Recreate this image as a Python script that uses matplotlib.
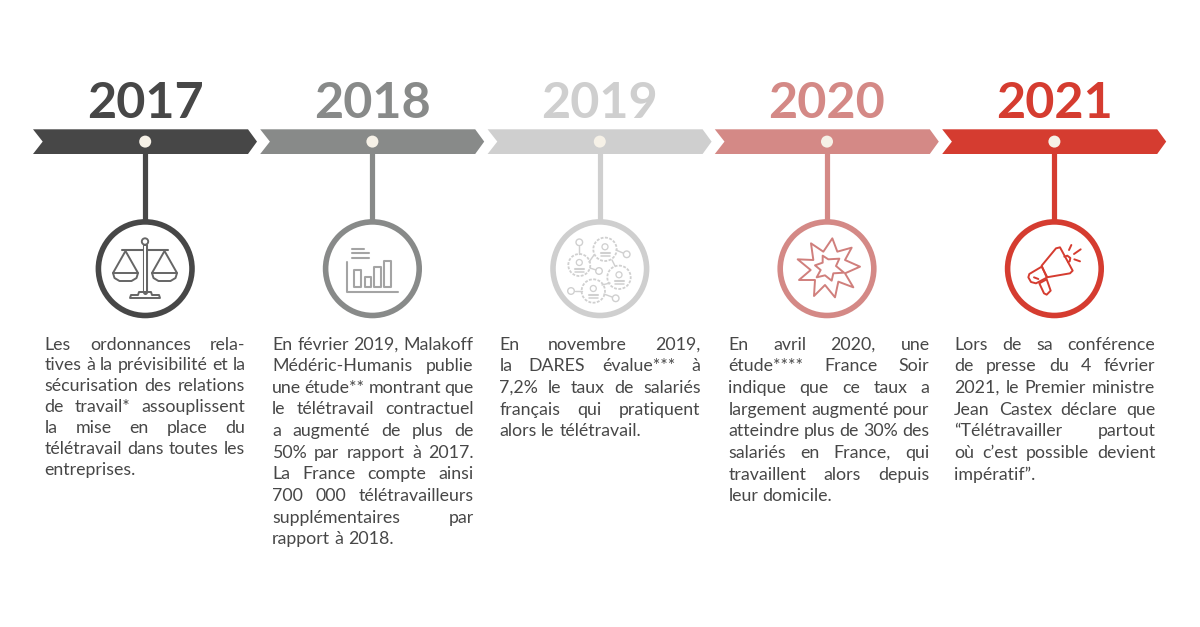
import matplotlib
matplotlib.use("Agg")
import matplotlib.pyplot as plt
from matplotlib.patches import Polygon, Circle, Rectangle

years = ["2017", "2018", "2019", "2020", "2021"]
colors = ["#474747", "#888a89", "#cfcfcf", "#d48986", "#d53c30"]
icon_colors = ["#666666", "#a4a4a4", "#d0d0d0", "#d07f7c", "#d53c30"]
paragraphs = [
    ["Les ordonnances rela-", "tives à la prévisibilité et la", "sécurisation des relations",
     "de travail* assouplissent", "la mise en place du", "télétravail dans toutes les", "entreprises."],
    ["En février 2019, Malakoff", "Médéric-Humanis publie", "une étude** montrant que",
     "le télétravail contractuel", "a augmenté de plus de", "50% par rapport à 2017.",
     "La France compte ainsi", "700 000 télétravailleurs", "supplémentaires par", "rapport à 2018."],
    ["En novembre 2019,", "la DARES évalue*** à", "7,2% le taux de salariés",
     "français qui pratiquent", "alors le télétravail."],
    ["En avril 2020, une", "étude**** France Soir", "indique que ce taux a", "largement augmenté pour",
     "atteindre plus de 30% des", "salariés en France, qui", "travaillent alors depuis", "leur domicile."],
    ["Lors de sa conférence", "de presse du 4 février", "2021, le Premier ministre",
     "Jean Castex déclare que", "“Télétravailler partout", "où c’est possible devient", "impératif”."],
]

TEXT = "#474747"
CREAM = "#f6f1e7"
PX = 0.72  # one pixel in points at dpi 100
FONT = "Lato"
BODY = 12.8
LW = 1.3

fig = plt.figure(figsize=(12, 6.27), dpi=100)
ax = fig.add_axes([0, 0, 1, 1])
ax.set_xlim(0, 1200)
ax.set_ylim(627, 0)
ax.axis("off")
renderer = fig.canvas.get_renderer()


def width_of(s, **kw):
    t = ax.text(0, 0, s, **kw)
    w = t.get_window_extent(renderer).width
    t.remove()
    return w


def justified(lines, x0, x1, y0, step):
    kw = dict(fontsize=BODY, family=FONT, color=TEXT)
    space = width_of("a a", **kw) - width_of("aa", **kw)
    for i, line in enumerate(lines):
        y = y0 + i * step
        words = line.split(" ")
        widths = [width_of(w, **kw) for w in words]
        last = i == len(lines) - 1
        gap = space if last or len(words) == 1 else (x1 - x0 - sum(widths)) / (len(words) - 1)
        x = x0
        for w, wd in zip(words, widths):
            ax.text(x, y, w, va="baseline", ha="left", **kw)
            x += wd + gap


def stroke(pts, c, lw=1.5, closed=False):
    ax.add_patch(Polygon(pts, closed=closed, fill=False, ec=c, lw=lw * LW * PX, joinstyle="round", capstyle="round", zorder=5))


def scales(c):
    stroke([(145, 245), (145, 292)], c, 3.9)
    ax.add_patch(Rectangle((143.8, 246), 2.4, 45, fc="white", ec="none", zorder=6))
    ax.add_patch(Circle((145, 241.5), 3.2, fc="white", ec=c, lw=1.9 * PX, zorder=7))
    stroke([(122, 250), (140, 250), (150, 250), (168, 250)], c, 1.6)
    for cx in (125.5, 164.5):
        stroke([(cx - 12.5, 273), (cx, 251), (cx + 12.5, 273)], c, 1.5)
        stroke([(cx - 12.5, 273), (cx + 12.5, 273), (cx + 11, 278), (cx + 6, 281), (cx - 6, 281), (cx - 11, 278)], c, 1.5, True)
    stroke([(139, 292), (151, 292), (152, 295), (159, 295), (160, 298), (130, 298), (131, 295), (138, 295)], c, 1.5, True)


def barsicon(c):
    stroke([(346.7, 262), (346.7, 291.7), (398.3, 291.7)], c, 1.6)
    for l, r, t in [(354, 361, 270), (365, 371, 277), (374.3, 381, 267), (384.3, 391, 261)]:
        stroke([(l, 287), (l, t), (r, t), (r, 287)], c, 1.6, True)
    for y, r in [(249, 364), (253, 369), (258, 369)]:
        stroke([(352, y), (r, y)], c, 1.6)


def network(c):
    big = [(579.3, 265, 11), (605, 249.3, 11.7), (619, 277.3, 11.7), (593.3, 291, 11.7)]
    small = [(579.3, 242.3), (626.7, 254.3), (599, 271), (571, 291), (615.7, 298.3)]
    for a, b in [((579.3, 246), (579.3, 254)), ((616, 250), (623, 253)), ((589, 262), (594, 255)),
                 ((590, 268), (596, 270)), ((612, 260), (615, 266)), ((602, 285), (610, 283)),
                 ((574.5, 291), (582, 291)), ((604, 294), (612, 297))]:
        stroke([a, b], c, 1.1)
    for x, y, r in big:
        ax.add_patch(Circle((x, y), r, fill=False, ec=c, lw=1.8 * PX, ls=(0, (1.6, 0.8)), zorder=5))
        ax.add_patch(Circle((x, y - 2.5), 3, fill=False, ec=c, lw=1.3 * PX, zorder=5))
        stroke([(x - 4.5, y + 4), (x + 4.5, y + 4)], c, 1.6)
        stroke([(x - 4.5, y + 6.5), (x + 4.5, y + 6.5)], c, 1.2)
    for x, y in small:
        ax.add_patch(Circle((x, y), 3.3, fill=False, ec=c, lw=1.4 * PX, zorder=5))


def burst(c):
    z = [(937, 85), (952, 125), (995, 113), (975, 150), (1020, 170), (975, 190), (1000, 232), (955, 215),
         (945, 262), (915, 225), (882, 258), (885, 210), (837, 210), (872, 180), (833, 148), (880, 150),
         (873, 100), (910, 125)]
    stroke([(520 + x / 3, 210 + y / 3) for x, y in z], c, 1.5, True)
    k = [(908, 137), (925, 148), (958, 146), (948, 168), (972, 188), (940, 190), (935, 212), (915, 196),
         (890, 202), (902, 180), (885, 166), (908, 158)]
    stroke([(520 + x / 3, 210 + y / 3) for x, y in k], c, 1.5, True)


def megaphone(c):
    def p(z):
        return [(930 + x / 3, 120 + y / 3) for x, y in z]
    stroke(p([(335, 437), (378, 385), (390, 382), (428, 452), (420, 460), (350, 472)]), c, 1.5, True)
    stroke(p([(298, 462), (335, 440), (352, 472), (318, 490), (303, 486), (295, 472)]), c, 1.5, True)
    stroke(p([(328, 490), (350, 478), (362, 512), (350, 524), (342, 520)]), c, 1.5, True)
    stroke(p([(403, 410), (412, 407), (421, 414), (419, 424), (414, 426)]), c, 1.5)
    stroke(p([(417, 390), (424, 375)]), c, 1.5)
    stroke(p([(432, 402), (452, 388)]), c, 1.5)
    stroke(p([(433, 418), (450, 424)]), c, 1.5)
    stroke(p([(312, 472), (325, 477)]), c, 1.5)


icons = [scales, barsicon, network, burst, megaphone]
starts = [33, 260.2, 487.6, 714.8, 942.2]
columns = [(44.3, 245.5), (272, 473.7), (499.3, 700.5), (728.3, 929.5), (954.3, 1155.3)]
steps = [20.9, 21.65, 21.7, 21.7, 21.7]

for yr, col, icol, para, x0, (tx0, tx1), icon, step in zip(years, colors, icon_colors, paragraphs, starts, columns, icons, steps):
    cx = x0 + 112.2
    ax.add_patch(Polygon([(x0, 129.3), (x0 + 215, 129.3), (x0 + 224, 141.6), (x0 + 215, 154), (x0, 154), (x0 + 9.7, 141.6)],
                         closed=True, fc=col, ec="none", zorder=2))
    ax.plot([cx, cx], [153, 221], color=col, lw=5.2 * PX, solid_capstyle="butt", zorder=2)
    ax.add_patch(Circle((cx, 141.6), 6, fc=CREAM, ec="none", zorder=3))
    ax.add_patch(Circle((cx, 268.7), 46.8, fc="white", ec=col, lw=5.6 * PX, zorder=3))
    ax.text(cx, 117.5, yr, ha="center", va="baseline", fontsize=36.3, family=FONT, fontweight="bold", color=col)
    icon(icol)
    justified(para, tx0, tx1, 349.5, step)

fig.savefig("out.png", dpi=100, facecolor="white")
